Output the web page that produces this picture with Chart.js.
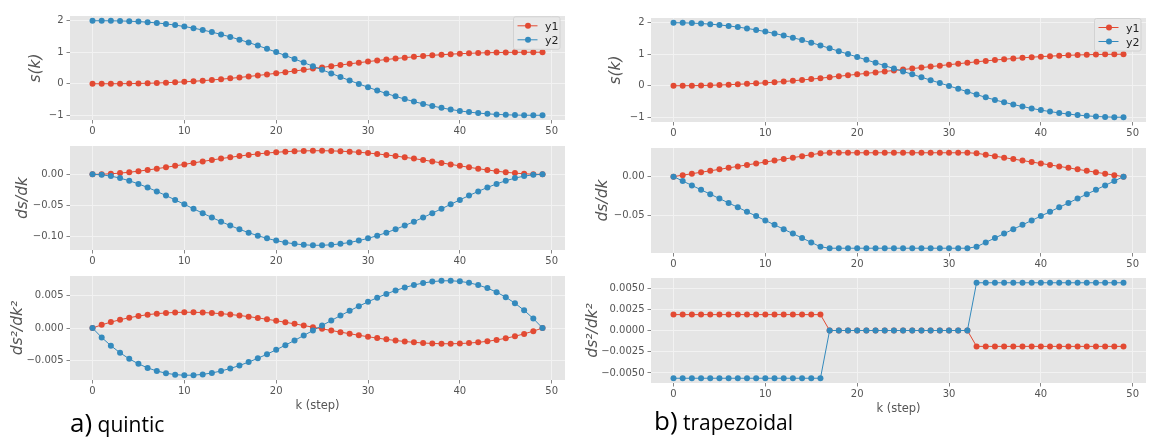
<!DOCTYPE html>
<html>
<head>
<meta charset="utf-8">
<title>quintic vs trapezoidal profiles</title>
<script src="https://cdn.jsdelivr.net/npm/chart.js@4.4.1/dist/chart.umd.min.js"></script>
<style>
  html, body { margin: 0; padding: 0; background: #fff; }
  body { width: 1165px; height: 447px; position: relative; overflow: hidden; }
  canvas { position: absolute; }
  #overlay { position: absolute; left: 0; top: 0; z-index: 5; }
</style>
</head>
<body>
<svg id="overlay" width="1165" height="447" xmlns="http://www.w3.org/2000/svg"></svg>
<script>
// step index k
const steps = [0, 1, 2, 3, 4, 5, 6, 7, 8, 9, 10, 11, 12, 13, 14, 15, 16, 17, 18, 19, 20, 21, 22, 23, 24,
  25, 26, 27, 28, 29, 30, 31, 32, 33, 34, 35, 36, 37, 38, 39, 40, 41, 42, 43, 44, 45, 46, 47, 48, 49];
const seriesNames = ['y1', 'y2'];

// a) quintic
const quinticPosY1 = [0, 0.0001, 0.0006, 0.0021, 0.0048, 0.0091, 0.0152, 0.0233, 0.0336, 0.0461,
  0.0611, 0.0785, 0.0982, 0.1203, 0.1447, 0.1713, 0.1999, 0.2304, 0.2627, 0.2965,
  0.3316, 0.3679, 0.4050, 0.4427, 0.4809, 0.5191, 0.5573, 0.5950, 0.6321, 0.6684,
  0.7035, 0.7373, 0.7696, 0.8001, 0.8287, 0.8553, 0.8797, 0.9018, 0.9215, 0.9389,
  0.9539, 0.9664, 0.9767, 0.9848, 0.9909, 0.9952, 0.9979, 0.9994, 0.9999, 1];
const quinticPosY2 = [2, 1.9998, 1.9981, 1.9937, 1.9856, 1.9728, 1.9545, 1.9302, 1.8993, 1.8616,
  1.8167, 1.7646, 1.7054, 1.6391, 1.5659, 1.4862, 1.4003, 1.3087, 1.2119, 1.1105,
  1.0051, 0.8964, 0.7850, 0.6718, 0.5574, 0.4426, 0.3282, 0.2150, 0.1036, -0.0051,
  -0.1105, -0.2119, -0.3087, -0.4003, -0.4862, -0.5659, -0.6391, -0.7054, -0.7646, -0.8167,
  -0.8616, -0.8993, -0.9302, -0.9545, -0.9728, -0.9856, -0.9937, -0.9981, -0.9998, -1];
const quinticVelY1 = [0, 0.00024, 0.00094, 0.00202, 0.00344, 0.00514, 0.00707, 0.00918, 0.01143, 0.01376,
  0.01615, 0.01856, 0.02094, 0.02326, 0.02550, 0.02762, 0.02961, 0.03143, 0.03307, 0.03451,
  0.03573, 0.03672, 0.03747, 0.03798, 0.03823, 0.03823, 0.03798, 0.03747, 0.03672, 0.03573,
  0.03451, 0.03307, 0.03143, 0.02961, 0.02762, 0.02550, 0.02326, 0.02094, 0.01856, 0.01615,
  0.01376, 0.01143, 0.00918, 0.00707, 0.00514, 0.00344, 0.00202, 0.00094, 0.00024, 0];
const quinticVelY2 = [0, -0.00073, -0.00282, -0.00607, -0.01032, -0.01542, -0.02121, -0.02754, -0.03428, -0.04129,
  -0.04846, -0.05567, -0.06281, -0.06978, -0.07650, -0.08287, -0.08882, -0.09429, -0.09920, -0.10352,
  -0.10718, -0.11016, -0.11242, -0.11394, -0.11470, -0.11470, -0.11394, -0.11242, -0.11016, -0.10718,
  -0.10352, -0.09920, -0.09429, -0.08882, -0.08287, -0.07650, -0.06978, -0.06281, -0.05567, -0.04846,
  -0.04129, -0.03428, -0.02754, -0.02121, -0.01542, -0.01032, -0.00607, -0.00282, -0.00073, 0];
const quinticAccY1 = [0, 0.000479, 0.000898, 0.001260, 0.001568, 0.001822, 0.002028, 0.002186, 0.002299, 0.002371,
  0.002402, 0.002397, 0.002358, 0.002286, 0.002186, 0.002058, 0.001907, 0.001733, 0.001541, 0.001332,
  0.001109, 0.000874, 0.000631, 0.000381, 0.000127, -0.000127, -0.000381, -0.000631, -0.000874, -0.001109,
  -0.001332, -0.001541, -0.001733, -0.001907, -0.002058, -0.002186, -0.002286, -0.002358, -0.002397, -0.002402,
  -0.002371, -0.002299, -0.002186, -0.002028, -0.001822, -0.001568, -0.001260, -0.000898, -0.000479, 0];
const quinticAccY2 = [0, -0.001438, -0.002695, -0.003781, -0.004703, -0.005467, -0.006083, -0.006557, -0.006897, -0.007112,
  -0.007207, -0.007192, -0.007073, -0.006859, -0.006557, -0.006175, -0.005720, -0.005200, -0.004622, -0.003995,
  -0.003326, -0.002623, -0.001893, -0.001143, -0.000382, 0.000382, 0.001143, 0.001893, 0.002623, 0.003326,
  0.003995, 0.004622, 0.005200, 0.005720, 0.006175, 0.006557, 0.006859, 0.007073, 0.007192, 0.007207,
  0.007112, 0.006897, 0.006557, 0.006083, 0.005467, 0.004703, 0.003781, 0.002695, 0.001438, 0];

// b) trapezoidal
const trapPosY1 = [0, 0.0009, 0.0037, 0.0084, 0.0150, 0.0234, 0.0337, 0.0459, 0.0600, 0.0759,
  0.0937, 0.1134, 0.1349, 0.1584, 0.1837, 0.2109, 0.2399, 0.2704, 0.3010, 0.3316,
  0.3622, 0.3929, 0.4235, 0.4541, 0.4847, 0.5153, 0.5459, 0.5765, 0.6071, 0.6378,
  0.6684, 0.6990, 0.7296, 0.7601, 0.7891, 0.8163, 0.8416, 0.8651, 0.8866, 0.9063,
  0.9241, 0.9400, 0.9541, 0.9663, 0.9766, 0.9850, 0.9916, 0.9963, 0.9991, 1];
const trapPosY2 = [2, 1.9972, 1.9888, 1.9747, 1.9550, 1.9297, 1.8988, 1.8622, 1.8201, 1.7723,
  1.7189, 1.6598, 1.5952, 1.5249, 1.4490, 1.3675, 1.2803, 1.1888, 1.0969, 1.0051,
  0.9133, 0.8214, 0.7296, 0.6378, 0.5459, 0.4541, 0.3622, 0.2704, 0.1786, 0.0867,
  -0.0051, -0.0969, -0.1888, -0.2803, -0.3675, -0.4490, -0.5249, -0.5952, -0.6598, -0.7189,
  -0.7723, -0.8201, -0.8622, -0.8988, -0.9297, -0.9550, -0.9747, -0.9888, -0.9972, -1];
const trapVelY1 = [0, 0.00187, 0.00375, 0.00562, 0.00750, 0.00937, 0.01125, 0.01312, 0.01499, 0.01687,
  0.01874, 0.02062, 0.02249, 0.02437, 0.02624, 0.02811, 0.02999, 0.03061, 0.03061, 0.03061,
  0.03061, 0.03061, 0.03061, 0.03061, 0.03061, 0.03061, 0.03061, 0.03061, 0.03061, 0.03061,
  0.03061, 0.03061, 0.03061, 0.02999, 0.02811, 0.02624, 0.02437, 0.02249, 0.02062, 0.01874,
  0.01687, 0.01499, 0.01312, 0.01125, 0.00937, 0.00750, 0.00562, 0.00375, 0.00187, 0];
const trapVelY2 = [0, -0.00562, -0.01125, -0.01687, -0.02249, -0.02811, -0.03374, -0.03936, -0.04498, -0.05060,
  -0.05623, -0.06185, -0.06747, -0.07309, -0.07872, -0.08434, -0.08996, -0.09184, -0.09184, -0.09184,
  -0.09184, -0.09184, -0.09184, -0.09184, -0.09184, -0.09184, -0.09184, -0.09184, -0.09184, -0.09184,
  -0.09184, -0.09184, -0.09184, -0.08996, -0.08434, -0.07872, -0.07309, -0.06747, -0.06185, -0.05623,
  -0.05060, -0.04498, -0.03936, -0.03374, -0.02811, -0.02249, -0.01687, -0.01125, -0.00562, 0];
const trapAccY1 = [0.00187, 0.00187, 0.00187, 0.00187, 0.00187, 0.00187, 0.00187, 0.00187, 0.00187, 0.00187,
  0.00187, 0.00187, 0.00187, 0.00187, 0.00187, 0.00187, 0.00187, 0, 0, 0,
  0, 0, 0, 0, 0, 0, 0, 0, 0, 0,
  0, 0, 0, -0.00187, -0.00187, -0.00187, -0.00187, -0.00187, -0.00187, -0.00187,
  -0.00187, -0.00187, -0.00187, -0.00187, -0.00187, -0.00187, -0.00187, -0.00187, -0.00187, -0.00187];
const trapAccY2 = [-0.00562, -0.00562, -0.00562, -0.00562, -0.00562, -0.00562, -0.00562, -0.00562, -0.00562, -0.00562,
  -0.00562, -0.00562, -0.00562, -0.00562, -0.00562, -0.00562, -0.00562, 0, 0, 0,
  0, 0, 0, 0, 0, 0, 0, 0, 0, 0,
  0, 0, 0, 0.00562, 0.00562, 0.00562, 0.00562, 0.00562, 0.00562, 0.00562,
  0.00562, 0.00562, 0.00562, 0.00562, 0.00562, 0.00562, 0.00562, 0.00562, 0.00562, 0.00562];

// ticks
const xTicks = [0, 10, 20, 30, 40, 50];
const posTicks = [-1, 0, 1, 2];
const posTickLabels = ['\u22121', '0', '1', '2'];
const quinticVelTicks = [-0.10, -0.05, 0];
const quinticVelTickLabels = ['\u22120.10', '\u22120.05', '0.00'];
const quinticAccTicks = [-0.005, 0, 0.005];
const quinticAccTickLabels = ['\u22120.005', '0.000', '0.005'];
const trapVelTicks = [-0.05, 0];
const trapVelTickLabels = ['\u22120.05', '0.00'];
const trapAccTicks = [-0.005, -0.0025, 0, 0.0025, 0.005];
const trapAccTickLabels = ['\u22120.0050', '\u22120.0025', '0.0000', '0.0025', '0.0050'];

const red = '#E24A33';
const blue = '#348ABD';
const tickFont = { family: 'DejaVu Sans', size: 10 };
const titleFont = { family: 'DejaVu Sans', size: 15.5, style: 'italic' };

const plotBg = {
  id: 'plotBg',
  beforeDraw(chart) {
    const { ctx, chartArea: a } = chart;
    ctx.save();
    ctx.fillStyle = '#E5E5E5';
    ctx.fillRect(a.left, a.top, a.right - a.left, a.bottom - a.top);
    ctx.restore();
  }
};

function panel(p) {
  const padTop = 6;
  const xh = p.xTitle ? 34 : 22;
  const w = 585;
  const h = (p.bottom - p.top) + padTop + xh;
  const canvas = document.createElement('canvas');
  canvas.width = w;
  canvas.height = h;
  canvas.style.left = p.colLeft + 'px';
  canvas.style.top = (p.top - padTop) + 'px';
  document.body.appendChild(canvas);

  const series = (label, values, color, order) => ({
    label: label,
    data: steps.map((k, i) => ({ x: k, y: values[i] })),
    borderColor: color,
    backgroundColor: color,
    borderWidth: 1,
    pointRadius: 3,
    pointBorderWidth: 0,
    pointBackgroundColor: color,
    tension: 0,
    order: order
  });

  const tickLine = { color: '#f2f2f2', lineWidth: 1, drawTicks: true, tickLength: 3.5, tickColor: '#666', tickWidth: 0.8 };

  return new Chart(canvas, {
    type: 'line',
    data: { datasets: [series(seriesNames[0], p.y1, red, 1), series(seriesNames[1], p.y2, blue, 0)] },
    options: {
      responsive: false,
      animation: false,
      devicePixelRatio: 1,
      events: [],
      layout: { padding: { top: padTop, right: w - (p.plotRight - p.colLeft), bottom: 0, left: 0 } },
      plugins: { legend: { display: false }, tooltip: { enabled: false } },
      scales: {
        x: {
          type: 'linear',
          min: -2.45,
          max: 51.45,
          afterBuildTicks: s => { s.ticks = xTicks.map(v => ({ value: v })); },
          afterFit: s => { s.height = xh; },
          grid: tickLine,
          border: { display: false },
          ticks: { color: '#555', font: tickFont, padding: 2, maxRotation: 0, autoSkip: false, callback: v => String(v) },
          title: {
            display: !!p.xTitle,
            text: p.xTitle || '',
            color: '#555',
            font: { family: 'DejaVu Sans', size: 11.5 },
            padding: { top: 0, bottom: 1 }
          }
        },
        y: {
          min: p.yMin,
          max: p.yMax,
          afterBuildTicks: s => { s.ticks = p.ticks.map(v => ({ value: v })); },
          afterFit: s => { s.width = p.plotLeft - p.colLeft; },
          grid: tickLine,
          border: { display: false },
          ticks: { color: '#555', font: tickFont, padding: 3, autoSkip: false, callback: (v, i) => p.tickLabels[i] },
          title: {
            display: true,
            text: p.yTitle,
            color: '#555',
            font: titleFont,
            padding: { top: p.titleCenter - titleFont.size * 0.6, bottom: 0 }
          }
        }
      }
    },
    plugins: [plotBg]
  });
}

const left = { colLeft: 0, plotLeft: 70, plotRight: 565 };
const right = { colLeft: 580, plotLeft: 651, plotRight: 1146 };

panel({ ...left, top: 13, bottom: 120, y1: quinticPosY1, y2: quinticPosY2, yMin: -1.15, yMax: 2.15,
  ticks: posTicks, tickLabels: posTickLabels, yTitle: 's(k)', titleCenter: 36 });
panel({ ...left, top: 143, bottom: 250, y1: quinticVelY1, y2: quinticVelY2, yMin: -0.12235, yMax: 0.04588,
  ticks: quinticVelTicks, tickLabels: quinticVelTickLabels, yTitle: 'ds/dk', titleCenter: 22.5 });
panel({ ...left, top: 273, bottom: 380, y1: quinticAccY1, y2: quinticAccY2, yMin: -0.00793, yMax: 0.00793,
  ticks: quinticAccTicks, tickLabels: quinticAccTickLabels, yTitle: 'ds\u00b2/dk\u00b2', titleCenter: 17.5, xTitle: 'k (step)' });

panel({ ...right, top: 15, bottom: 122, y1: trapPosY1, y2: trapPosY2, yMin: -1.15, yMax: 2.15,
  ticks: posTicks, tickLabels: posTickLabels, yTitle: 's(k)', titleCenter: 35.5 });
panel({ ...right, top: 145, bottom: 253, y1: trapVelY1, y2: trapVelY2, yMin: -0.09796, yMax: 0.03673,
  ticks: trapVelTicks, tickLabels: trapVelTickLabels, yTitle: 'ds/dk', titleCenter: 22.5 });
panel({ ...right, top: 275, bottom: 383, y1: trapAccY1, y2: trapAccY2, yMin: -0.00618, yMax: 0.00618,
  ticks: trapAccTicks, tickLabels: trapAccTickLabels, yTitle: 'ds\u00b2/dk\u00b2', titleCenter: 12.5, xTitle: 'k (step)' });

// legends and captions
const svg = document.getElementById('overlay');
const NS = 'http://www.w3.org/2000/svg';
function el(tag, attrs, text) {
  const e = document.createElementNS(NS, tag);
  for (const k in attrs) e.setAttribute(k, attrs[k]);
  if (text) e.textContent = text;
  svg.appendChild(e);
  return e;
}

function legend(x, y) {
  el('rect', { x: x, y: y, width: 46.5, height: 32.5, rx: 2, fill: '#e8e8e8', stroke: '#d2d2d2', 'stroke-width': 1 });
  [red, blue].forEach((c, i) => {
    const cy = y + 9 + i * 14;
    el('line', { x1: x + 4, y1: cy, x2: x + 24, y2: cy, stroke: c, 'stroke-width': 1 });
    el('circle', { cx: x + 14.5, cy: cy, r: 3, fill: c });
    el('text', { x: x + 31.5, y: cy + 4, 'font-family': 'DejaVu Sans', 'font-size': 11, fill: '#222' }, seriesNames[i]);
  });
}
legend(513.5, 16.8);
legend(1094.5, 18.5);

function caption(x, y, tag, word) {
  const t = el('text', { x: x, y: y, 'font-family': 'Open Sans', fill: '#000' });
  const a = document.createElementNS(NS, 'tspan');
  a.setAttribute('font-size', 26);
  a.textContent = tag;
  const b = document.createElementNS(NS, 'tspan');
  b.setAttribute('font-size', 21);
  b.textContent = ' ' + word;
  t.appendChild(a);
  t.appendChild(b);
}
caption(70, 431.5, 'a)', 'quintic');
caption(654, 430, 'b)', 'trapezoidal');
</script>
</body>
</html>
